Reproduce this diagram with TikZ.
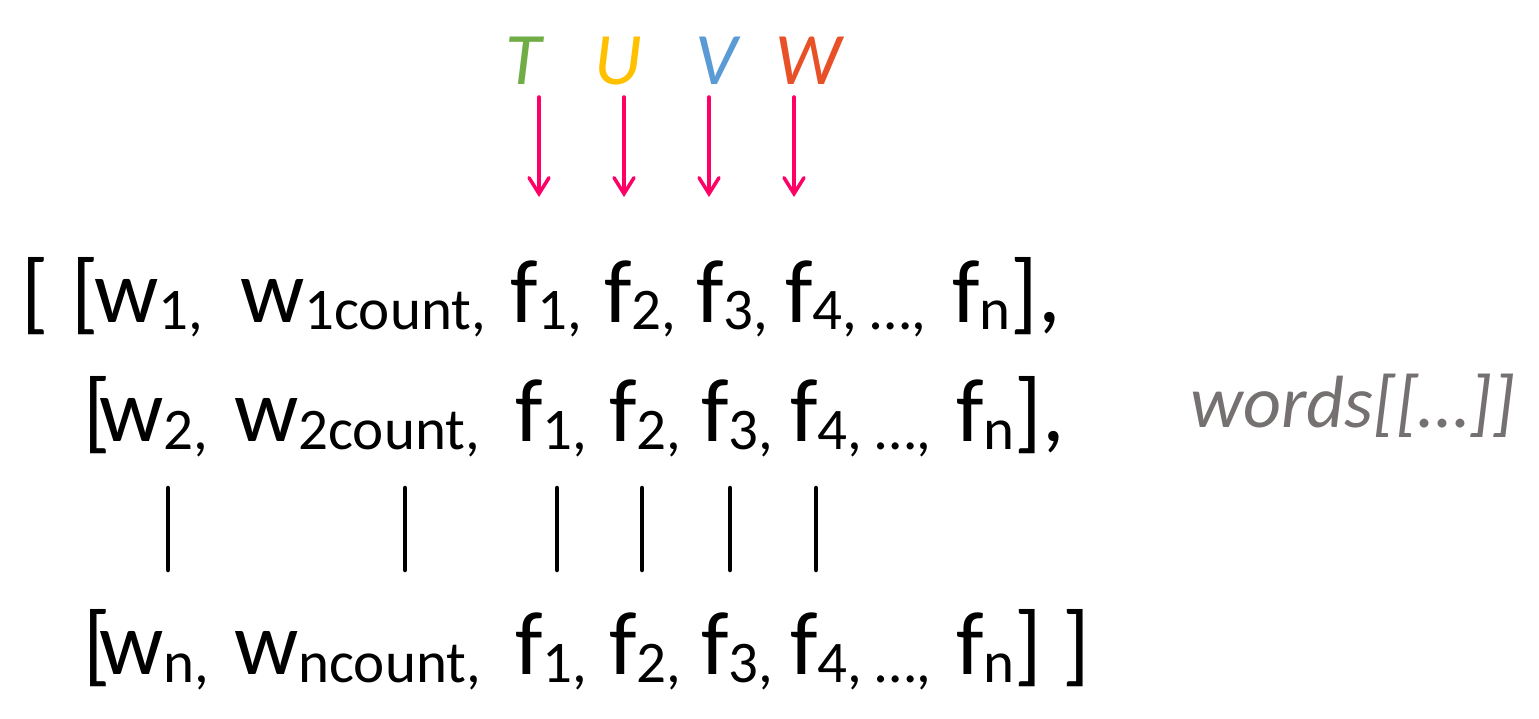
\documentclass[tikz,border=0pt]{standalone}
\usepackage{fontspec}
\setmainfont{Carlito}
\usetikzlibrary{arrows.meta}
\definecolor{cT}{RGB}{112,173,71}
\definecolor{cU}{RGB}{255,192,0}
\definecolor{cV}{RGB}{91,155,213}
\definecolor{cW}{RGB}{232,80,40}
\definecolor{arr}{RGB}{255,0,102}
\definecolor{gry}{RGB}{118,113,113}
\newcommand\sbs[1]{\raisebox{-8pt}{\fontsize{59}{60}\selectfont #1}}
\tikzset{
  tok/.style={anchor=base west, inner sep=0pt, font=\fontsize{90}{100}\selectfont},
  lett/.style={anchor=base, inner sep=0pt, font=\fontsize{74}{80}\selectfont\itshape},
  pt/.style={-{Straight Barb[length=16pt,width=20pt,line cap=round]}, line width=3.5pt, arr, line cap=round},
  bar/.style={line width=4.5pt, line cap=round}
}
\begin{document}
\begin{tikzpicture}[x=1pt,y=-1pt]
\useasboundingbox (0,0) rectangle (1539,719);
% letters and arrows
\node[lett, text=cT] (T) at (524,85) {T};
\node[lett, text=cU] (U) at (618,85) {U};
\node[lett, text=cV] (V) at (716,85) {V};
\node[lett, text=cW] (W) at (808,85) {W};
\coordinate (t1) at (539,97); \coordinate (t2) at (539,197);
\coordinate (u1) at (624,97); \coordinate (u2) at (624,197);
\coordinate (v1) at (709,97); \coordinate (v2) at (709,197);
\coordinate (w1) at (794,97); \coordinate (w2) at (794,197);
\draw[pt] (t1) -- (t2);
\draw[pt] (u1) -- (u2);
\draw[pt] (v1) -- (v2);
\draw[pt] (w1) -- (w2);
% row 1
\node[tok] (a0) at (21,322) {[};
\node[tok] (a1) at (71,322) {[};
\node[tok] (a2) at (94,322) {w\sbs{1,}};
\node[tok] (a3) at (240,322) {w\sbs{1count,}};
\node[tok] (a4) at (510,322) {f\sbs{1,}};
\node[tok] (a5) at (604,322) {f\sbs{2,}};
\node[tok] (a6) at (696,322) {f\sbs{3,}};
\node[tok] (a7) at (785,322) {f\sbs{4, …,}};
\node[tok] (a8) at (952,322) {f\sbs{n}],};
% row 2
\node[tok] (b1) at (83,441) {[};
\node[tok] (b2) at (99,441) {w\sbs{2,}};
\node[tok] (b3) at (234,441) {w\sbs{2count,}};
\node[tok] (b4) at (515,441) {f\sbs{1,}};
\node[tok] (b5) at (609,441) {f\sbs{2,}};
\node[tok] (b6) at (701,441) {f\sbs{3,}};
\node[tok] (b7) at (790,441) {f\sbs{4, …,}};
\node[tok] (b8) at (956,441) {f\sbs{n}],};
% row n
\node[tok] (c1) at (83,674) {[};
\node[tok] (c2) at (99,674) {w\sbs{n,}};
\node[tok] (c3) at (234,674) {w\sbs{ncount,}};
\node[tok] (c4) at (515,674) {f\sbs{1,}};
\node[tok] (c5) at (609,674) {f\sbs{2,}};
\node[tok] (c6) at (701,674) {f\sbs{3,}};
\node[tok] (c7) at (790,674) {f\sbs{4, …,}};
\node[tok] (c8) at (956,674) {f\sbs{n}] ]};
% label
\node[anchor=base west, inner sep=0pt, text=gry, font=\fontsize{74}{80}\selectfont\itshape] (wd) at (1190,427) {words[[…]]};
% vertical bars
\foreach \x/\n in {168/p,405/q,557/r,642/s,730/u,816/v}{
  \coordinate (\n1) at (\x,488); \coordinate (\n2) at (\x,570);
  \draw[bar] (\n1) -- (\n2);
}
\end{tikzpicture}
\end{document}
